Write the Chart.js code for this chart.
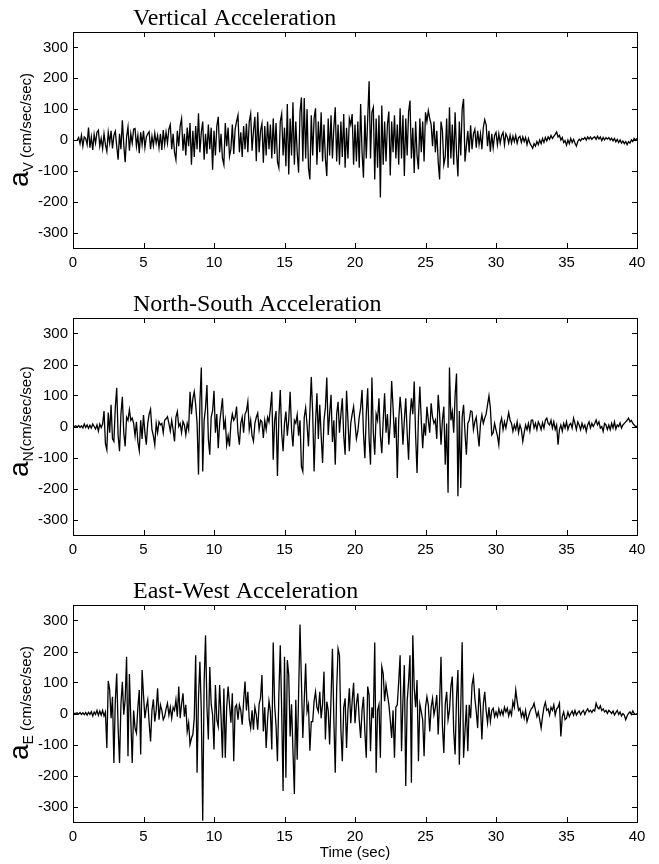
<!DOCTYPE html>
<html>
<head>
<meta charset="utf-8">
<script src="https://cdn.jsdelivr.net/npm/chart.js@4.4.1/dist/chart.umd.min.js"></script>
<style>
  body { margin: 0; background: #fff; }
  .panel { position: absolute; left: 0; }
</style>
</head>
<body>
<canvas id="vert" class="panel" width="659" height="288" style="top:0px"></canvas>
<canvas id="ns" class="panel" width="659" height="288" style="top:288px"></canvas>
<canvas id="ew" class="panel" width="659" height="288" style="top:576px"></canvas>
<script>
// sampled every 0.1 s, 0..40 s
const dt = 0.1;
const xTicks = [0, 5, 10, 15, 20, 25, 30, 35, 40];
const yTicks = [-300, -200, -100, 0, 100, 200, 300];

const vertAcc = [
  null, null, null, 0, 8, -12, 15, -20, 10, 5,
  -15, 40, -25, 10, -32, 18, -10, 25, 32, -20,
  5, -28, 20, -15, -37, 25, -10, 30, -27, 15,
  28, -20, -64, 20, -30, 64, -15, -72, 10, 42,
  -35, 20, -10, 35, 37, -20, 15, -43, 25, -15,
  30, -25, 10, 20, 27, -30, 12, -18, 22, -10,
  15, -25, 20, -32, 32, -15, 25, -10, 35, 50,
  -30, 20, -40, -64, 30, -20, 45, 69, -35, 20,
  -50, 40, -20, 55, -80, 30, -55, 45, -30, 87,
  -40, 25, 60, -64, 20, -45, 50, -30, 40, -96,
  30, -50, 45, 75, -40, 20, -60, -80, 55, -20,
  40, -53, -30, 50, -45, 35, 60, 80, -40, 25,
  -55, 45, -30, 53, -40, 60, 85, -35, 30, 75,
  -69, 90, -40, 30, 53, -74, 45, -50, 60, -30,
  50, -60, 70, -45, 55, -70, -90, 60, 85, -50,
  40, -85, 117, -112, 70, -50, 122, -80, 60, -40,
  -106, 90, 138, -70, 136, -60, 100, -90, -128, 80,
  -50, 70, 103, -80, 60, -40, 90, -70, 50, -60,
  -117, 70, -50, 80, -60, 40, 106, -70, 50, -80,
  60, -55, 84, -90, 40, -60, 70, 50, 84, -80,
  50, -70, 60, -90, 117, -40, -122, 80, -60, 70,
  190, -60, 90, 106, -128, 70, -90, 80, -186, 112,
  -80, 60, -70, 50, 92, -115, 60, -40, 80, -60,
  50, -80, 103, -60, 80, -117, 70, -50, 90, 128,
  -60, 40, -107, 60, -50, -95, 70, -40, 60, -70,
  90, 60, 95, 70, 50, -20, 60, -40, 30, -70,
  -128, 60, 30, -80, -55, 70, -90, 106, -60, 50,
  -80, 90, -40, -118, 60, -50, 100, 133, -70, -20,
  30, -40, 48, -30, 20, 35, -25, 30, -15, 20,
  -30, 40, 66, 50, -20, 30, -38, 20, -25, 15,
  25, -15, 20, -10, 15, 25, -15, 20, 10, -10,
  15, -10, 12, -5, 15, -10, 8, 12, -8, 10,
  -5, 8, -15, 5, -10, -18, -27, -12, -20, -5,
  -15, 0, -12, 5, -8, 8, -3, 10, 2, 15,
  5, 12, 18, 26, 10, 15, 0, 8, -8, -2,
  -17, 0, -12, 5, -8, 2, -10, -20, -5, 3,
  -3, 5, 2, 8, 0, 10, 3, 10, 2, 8,
  10, 2, 12, 3, 10, -2, 8, 0, 8, 3,
  8, 0, 6, -3, 5, -6, 2, -8, 0, -10,
  -3, -12, -5, -15, -5, -10, 0, -5, 5, 0,
  5
];

const nsAcc = [
  0, 0, 2, -2, 3, -3, 2, -5, 8, -3,
  5, -6, 4, -5, 8, 0, -8, 5, -15, 8,
  -3, 8, 50, -55, -75, 45, -20, 70, -40, -48,
  60, 125, -30, -80, 40, 96, -20, -64, 30, 20,
  54, 20, 27, 10, -30, 15, -50, -78, 20, -40,
  37, -20, -59, 10, 40, 56, -10, -30, -59, 10,
  -20, 15, 5, 10, -20, 20, 25, 32, 10, -15,
  20, -10, -48, 30, 48, 0, 10, -20, 16, 5,
  -27, 10, -10, 112, 40, 90, 112, 70, 10, -155,
  80, 190, -145, 20, 60, 134, -40, -91, 30, 50,
  115, -20, 40, -70, 10, 50, 91, -10, 20, -59,
  -30, -64, 10, 40, 20, 30, 64, -20, -59, 10,
  30, -20, 40, 50, 80, -10, 20, -30, -48, 10,
  30, 43, -10, 20, 15, -37, 20, -10, 30, 15,
  59, 112, -107, 20, 50, -160, 30, 118, -20, -80,
  10, 48, -30, 20, 112, -10, -64, 20, 10, 38,
  -30, 20, -129, -145, 30, 60, 5, -64, 50, 160,
  40, -145, 10, 107, -40, 70, -30, -118, 20, 60,
  158, -27, 40, 102, -50, 20, -123, 40, 80, -20,
  40, 91, -30, -91, 115, 20, -80, 10, 40, 64,
  10, -40, -16, 30, 60, 118, -20, -102, 40, 123,
  -40, -123, 158, -20, -91, 40, 20, 91, -30, -86,
  20, 107, -20, 40, -59, 10, 147, 60, -37, 30,
  -166, 20, 96, 40, -59, 20, 91, -20, -107, 30,
  91, 40, 145, -30, -150, 30, 129, 20, -70, 10,
  -30, 64, 20, -20, 75, 30, 10, 21, -40, 102,
  40, -59, 20, 64, -123, 10, -214, 190, 20, 48,
  -20, 100, 171, -225, 50, -198, 30, 70, -20, -91,
  10, 20, 50, 48, -10, 16, 30, -20, -64, 10,
  37, 10, 27, 40, 70, 99, 60, -27, -20, 10,
  -11, -30, -59, 10, 27, -10, 15, -5, 20, 45,
  20, 10, -16, 5, -10, 15, -20, 5, -10, -48,
  -20, 5, -10, 10, -15, 20, 21, -5, 10, -10,
  15, 5, -10, 12, -5, 20, 27, 10, 5, 20,
  -5, 15, -10, 5, -59, -10, 5, -15, 10, -5,
  15, -10, 5, 10, -5, 27, 10, -10, 15, 5,
  -10, 10, -5, 5, -16, 5, 15, -5, 10, 0,
  10, 21, 5, 15, -5, 0, -16, 10, 5, -10,
  5, -10, 10, -5, 15, -8, 5, 0, 12, -5,
  5, 10, 15, 20, 27, 15, 20, 10, 5, 0,
  0
];

const ewAcc = [
  0, 0, 0, 2, -2, 3, -3, 2, -4, 3,
  -5, 4, -3, 6, -8, 5, -3, 10, -6, 8,
  -5, 10, -8, 5, -111, 105, 76, -15, 54, -160,
  40, 129, -47, -160, 30, 102, -4, 44, 183, -138,
  127, -20, -160, 10, -47, -63, 20, 76, -132, 140,
  60, -15, 20, 44, -30, -90, 10, 46, -26, 10,
  81, -20, 28, 10, -20, -10, 15, 33, -5, 20,
  -15, 20, 10, 44, -10, 87, -15, 30, 65, -10,
  28, -58, -30, -100, -80, -68, -15, 188, -191, 50,
  167, 6, -346, 100, 252, 20, -84, 150, 30, -4,
  -116, 92, -20, -42, 92, -10, -143, 81, -143, 20,
  87, 28, -30, 65, -154, 20, 28, -20, 28, 10,
  -36, 40, 103, 10, 70, -20, -47, 10, -52, 20,
  -4, -52, 30, 50, 124, -58, 20, -111, -20, 40,
  6, -116, 229, 28, -40, -154, 60, 220, 10, -250,
  183, -207, 172, 124, -74, 30, -120, -260, 44, -149,
  60, 287, 103, -79, 40, 161, 6, 28, -120, -26,
  -26, 40, 70, 20, 6, 70, -15, 30, 135, -84,
  38, 10, -100, 50, 209, -20, -191, 80, 209, 188,
  -52, -154, 20, 49, -111, 10, 81, -31, 40, 99,
  -31, 30, 65, -20, -79, 10, 54, -60, -143, 87,
  60, -122, 20, -15, 229, -191, 10, 28, -143, 151,
  129, 40, 92, 60, 30, -20, -79, 10, -143, 20,
  28, 103, 188, -122, 40, 156, -234, 40, 103, 188,
  -223, 252, 81, 20, 108, -154, 30, 6, -20, -138,
  20, 54, 28, -58, 20, 49, -4, 20, 60, -68,
  38, 183, -40, -127, 30, 70, -20, 10, 87, 119,
  -58, -132, 50, 140, -165, 20, 230, -143, -58, 28,
  -122, 28, -15, 92, 118, 49, 6, -47, 81, 20,
  -84, 30, 70, 10, -30, 20, -26, 10, 17, -10,
  5, -10, 15, -4, 10, -5, 20, 5, 17, -8,
  10, -5, 38, 20, 76, 40, 10, 17, -10, 5,
  -15, 10, -26, -10, 5, 15, 20, 33, 10, -10,
  5, -20, -47, -10, 20, 36, 10, 15, -5, 20,
  10, 28, -5, 15, 20, 33, -74, -10, 5, -20,
  -15, 5, -10, 0, 8, -5, 10, -5, 3, 8,
  -4, 5, 10, -3, 8, 15, 5, 10, 3, 12,
  8, 33, 20, 15, 25, 10, 15, 5, 10, 0,
  10, 6, 0, 8, -5, 3, 10, -3, 5, -8,
  0, -5, -20, -8, 0, 5, -3, 8, 0, -3,
  0
];

Chart.defaults.color = '#000';
Chart.defaults.font.family = '"Liberation Sans", Arial, sans-serif';

// box, inward ticks, panel title and the y label with subscript
const framePlugin = {
  id: 'frame',
  afterDraw(chart, args, opts) {
    const { ctx, chartArea: a, scales: { x, y } } = chart;
    ctx.save();
    ctx.strokeStyle = '#000';
    ctx.lineWidth = 1;
    ctx.strokeRect(a.left + 0.5, a.top + 0.5, a.width, a.height);
    ctx.beginPath();
    xTicks.forEach(v => {
      const px = Math.round(x.getPixelForValue(v)) + 0.5;
      ctx.moveTo(px, a.top); ctx.lineTo(px, a.top + 5);
      ctx.moveTo(px, a.bottom); ctx.lineTo(px, a.bottom - 5);
    });
    yTicks.forEach(v => {
      const py = Math.round(y.getPixelForValue(v)) + 0.5;
      ctx.moveTo(a.left, py); ctx.lineTo(a.left + 5, py);
      ctx.moveTo(a.right, py); ctx.lineTo(a.right - 5, py);
    });
    ctx.stroke();

    ctx.fillStyle = '#000';
    ctx.textBaseline = 'alphabetic';
    ctx.textAlign = 'left';
    ctx.font = '24px "Liberation Serif", "Times New Roman", serif';
    ctx.fillText(opts.title, a.left + 60, a.top - 7);

    ctx.translate(28, a.top + opts.labelStart);
    ctx.rotate(-Math.PI / 2);
    ctx.font = '28px "Liberation Sans", Arial, sans-serif';
    ctx.fillText('a', 0, 0);
    let w = ctx.measureText('a').width;
    ctx.font = '14px "Liberation Sans", Arial, sans-serif';
    ctx.fillText(opts.sub, w, 5);
    w += ctx.measureText(opts.sub).width;
    ctx.font = '15px "Liberation Sans", Arial, sans-serif';
    ctx.fillText(opts.unit, w, 3);
    ctx.restore();
  }
};

function makePanel(id, values, cfg) {
  const pts = values.map((v, i) => ({ x: Math.round(i * dt * 10) / 10, y: v }));
  return new Chart(document.getElementById(id), {
    type: 'line',
    data: {
      datasets: [{
        data: pts,
        borderColor: '#000',
        borderWidth: 1.3,
        pointRadius: 0,
        tension: 0,
        spanGaps: false
      }]
    },
    options: {
      responsive: false,
      animation: false,
      layout: { padding: { top: cfg.top, right: 22, left: 0, bottom: 0 } },
      plugins: {
        legend: { display: false },
        tooltip: { enabled: false },
        frame: cfg
      },
      scales: {
        x: {
          type: 'linear',
          min: 0, max: 40,
          afterBuildTicks: s => { s.ticks = xTicks.map(v => ({ value: v })); },
          afterFit: s => { s.height = cfg.xh; },
          grid: { display: false, drawTicks: false },
          border: { display: false },
          ticks: { padding: 6, maxRotation: 0, autoSkip: false, font: { size: 15 } },
          title: {
            display: !!cfg.xtitle,
            text: cfg.xtitle || '',
            font: { size: 15 },
            padding: { top: 0, bottom: 2 }
          }
        },
        y: {
          min: -350, max: 350,
          afterBuildTicks: s => { s.ticks = yTicks.map(v => ({ value: v })); },
          afterFit: s => { s.width = 73; },
          grid: { display: false, drawTicks: false },
          border: { display: false },
          ticks: { padding: 5, font: { size: 15 } }
        }
      }
    },
    plugins: [framePlugin]
  });
}

makePanel('vert', vertAcc, { title: 'Vertical Acceleration', sub: 'V', unit: ' (cm/sec/sec)', top: 32, xh: 40, labelStart: 155 });
makePanel('ns', nsAcc, { title: 'North-South Acceleration', sub: 'N', unit: '(cm/sec/sec)', top: 30, xh: 41, labelStart: 159 });
makePanel('ew', ewAcc, { title: 'East-West Acceleration', sub: 'E', unit: ' (cm/sec/sec)', top: 29, xh: 42, labelStart: 155, xtitle: 'Time (sec)' });
</script>
</body>
</html>
